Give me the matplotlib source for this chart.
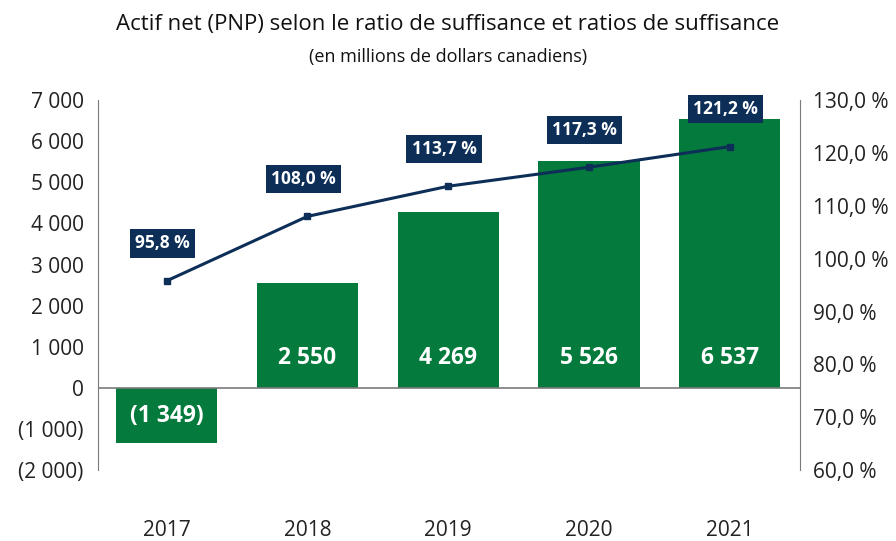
import matplotlib.pyplot as plt

plt.rcParams['font.family'] = ['Open Sans', 'DejaVu Sans']

# data
years = ['2017', '2018', '2019', '2020', '2021']
actif_net = [-1349, 2550, 4269, 5526, 6537]
ratios = [95.8, 108.0, 113.7, 117.3, 121.2]
left_ticks = [-2000, -1000, 0, 1000, 2000, 3000, 4000, 5000, 6000, 7000]
right_ticks = [60, 70, 80, 90, 100, 110, 120, 130]

GREEN = '#047a3c'
NAVY = '#0c2e57'
GREY = '#7a7a7a'


def fmt_num(v):
    s = '{:,}'.format(abs(v)).replace(',', ' ')
    return '(' + s + ')' if v < 0 else s


def fmt_pct(v):
    return '{:.1f} %'.format(v).replace('.', ',')


fig = plt.figure(figsize=(8.96, 5.41), dpi=100)
ax = fig.add_axes([0.109, 0.131, 0.784, 0.684])
x = list(range(len(years)))

ax.bar(x, actif_net, width=0.72, color=GREEN, zorder=2)
ax.axhline(0, color=GREY, lw=1.2, zorder=3)
ax.set_ylim(-2000, 7000)
ax.set_xlim(-0.49, 4.5)
ax.set_yticks(left_ticks)
ax.set_yticklabels([fmt_num(t) for t in left_ticks])
ax.tick_params(axis='y', length=0, labelsize=15, pad=10, labelcolor='#222222')
ax.set_xticks(x)
ax.set_xticklabels(years)
ax.tick_params(axis='x', length=0, labelsize=15, pad=36, labelcolor='#222222')
for s in ['top', 'right', 'bottom']:
    ax.spines[s].set_visible(False)
ax.spines['left'].set_color(GREY)

# value labels inside bars
for xi, v in zip(x, actif_net):
    if v < 0:
        ypos = v / 2
    else:
        ypos = 720
    ax.text(xi, ypos, fmt_num(v), ha='center', va='center', color='white',
            fontsize=16.5, fontweight='bold', zorder=4)

ax2 = ax.twinx()
ax2.plot(x, ratios, color=NAVY, lw=2.2, marker='s', markersize=5, zorder=5)
ax2.set_ylim(60, 130)
ax2.set_yticks(right_ticks)
ax2.set_yticklabels([fmt_pct(t) for t in right_ticks])
ax2.tick_params(axis='y', length=0, labelsize=15, pad=9, labelcolor='#222222')
for s in ['top', 'left', 'bottom']:
    ax2.spines[s].set_visible(False)
ax2.spines['right'].set_color(GREY)

for xi, r in zip(x, ratios):
    ax2.annotate(fmt_pct(r), (xi, r), xytext=(-3, 27), textcoords='offset points',
                 ha='center', va='center', color='white', fontsize=12.5,
                 fontweight='bold',
                 bbox=dict(boxstyle='square,pad=0.3', fc=NAVY, ec='none'))

fig.text(0.5, 0.955, 'Actif net (PNP) selon le ratio de suffisance et ratios de suffisance',
         ha='center', va='center', fontsize=16, color='#111111')
fig.text(0.5, 0.894, '(en millions de dollars canadiens)',
         ha='center', va='center', fontsize=13, color='#111111')

fig.savefig('out.png', dpi=100)
